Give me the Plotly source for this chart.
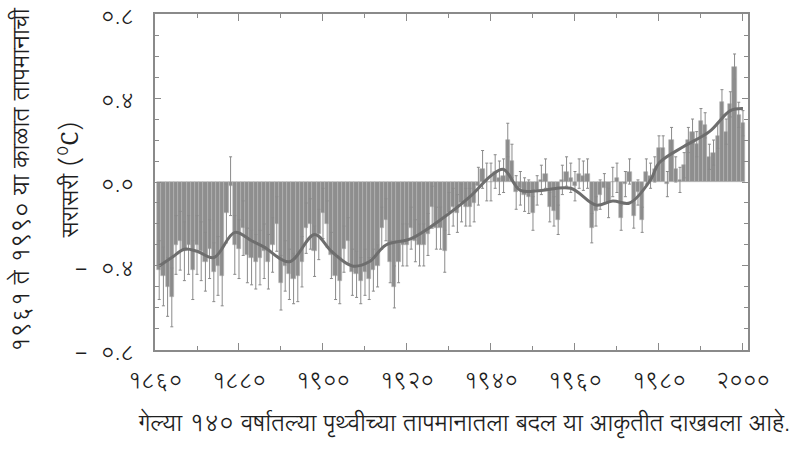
import plotly.graph_objects as go

years = list(range(1861, 2001))
anomaly = [
    -0.42, -0.45, -0.50, -0.55, -0.30, -0.28, -0.33, -0.30, -0.42, -0.30,
    -0.33, -0.38, -0.32, -0.43, -0.40, -0.45, -0.15, -0.02, -0.30, -0.32,
    -0.22, -0.35, -0.36, -0.38, -0.36, -0.33, -0.38, -0.30, -0.20, -0.48,
    -0.40, -0.44, -0.46, -0.45, -0.38, -0.22, -0.20, -0.33, -0.25, -0.15,
    -0.20, -0.35, -0.45, -0.47, -0.32, -0.28, -0.43, -0.44, -0.47, -0.43,
    -0.46, -0.42, -0.40, -0.22, -0.18, -0.38, -0.50, -0.38, -0.30, -0.30,
    -0.22, -0.28, -0.30, -0.30, -0.25, -0.12, -0.22, -0.22, -0.33, -0.15,
    -0.12, -0.15, -0.10, -0.12, -0.12, -0.10, -0.02, 0.06, 0.00, 0.00,
    0.05, 0.02, 0.03, 0.20, 0.10, -0.05, -0.03, -0.06, -0.07, -0.15,
    -0.04, 0.01, 0.04, -0.12, -0.14, -0.18, 0.01, 0.05, 0.02, -0.02,
    0.04, 0.03, 0.04, -0.22, -0.14, -0.06, -0.03, -0.10, 0.00, 0.02,
    -0.17, -0.01, 0.05, -0.16, -0.05, -0.18, 0.05, 0.03, 0.06, 0.16,
    0.16, -0.01, 0.20, 0.06, 0.01, 0.08, 0.20, 0.24, 0.18, 0.29,
    0.27, 0.12, 0.14, 0.22, 0.38, 0.24, 0.37, 0.55, 0.32, 0.28,
]
# uncertainty half-width per decade (1861-1870, ..., 1991-2000)
decade_uncertainty = [0.14, 0.14, 0.13, 0.12, 0.11, 0.10, 0.10, 0.09,
                      0.08, 0.07, 0.07, 0.06, 0.06, 0.06]
uncertainty = [decade_uncertainty[(y - 1861) // 10] for y in years]

smooth_years = [1861, 1864, 1867, 1870, 1874, 1879, 1883, 1886, 1892, 1898,
                1902, 1907, 1911, 1915, 1921, 1928, 1935, 1940, 1943, 1947,
                1952, 1959, 1965, 1969, 1973, 1978, 1980, 1986, 1992, 1997, 2000]
smooth_vals = [-0.40, -0.36, -0.32, -0.33, -0.36, -0.24, -0.28, -0.31, -0.38, -0.25,
               -0.33, -0.40, -0.38, -0.30, -0.27, -0.18, -0.07, 0.03, 0.06, -0.04,
               -0.04, -0.03, -0.11, -0.09, -0.10, 0.01, 0.09, 0.17, 0.24, 0.34, 0.35]

x_tickvals = [1860, 1880, 1900, 1920, 1940, 1960, 1980, 2000]
x_ticktext = ["१८६०", "१८८०", "१९००", "१९२०", "१९४०", "१९६०", "१९८०", "२०००"]
y_tickvals = [0.8, 0.4, 0.0, -0.4, -0.8]
y_ticktext = ["०.८", "०.४", "०.०", "-\u00a0\u00a0०.४", "-\u00a0\u00a0०.८"]

ylabel_line1 = "१९६१ ते १९९० या काळात तापमानाची"
ylabel_line2 = "सरासरी (<sup>0</sup>C)"
caption = "गेल्या १४० वर्षातल्या पृथ्वीच्या तापमानातला बदल या आकृतीत दाखवला आहे."

FONT = "Lohit Devanagari, Noto Serif Devanagari, Noto Sans Devanagari, sans-serif"
TXT = "#1e1e1e"

fig = go.Figure()
fig.add_trace(go.Bar(
    x=years, y=anomaly,
    marker=dict(color="#8e8e8e", line=dict(color="#b5b5b5", width=0.6)),
    width=1.0,
    error_y=dict(type="data", array=uncertainty, visible=True,
                 color="#8a8a8a", thickness=1, width=1.5),
    showlegend=False,
))
fig.add_trace(go.Scatter(
    x=smooth_years, y=smooth_vals, mode="lines",
    line=dict(color="#6e6e6e", width=3, shape="spline", smoothing=1.0),
    showlegend=False,
))

axis_common = dict(
    showline=True, linecolor="#8a8a8a", linewidth=1.5, mirror="ticks",
    ticks="inside", tickcolor="#8a8a8a", showgrid=False, zeroline=False,
    ticklabeloverflow="allow",
)
fig.update_xaxes(
    range=[1860, 2001.2], tickvals=x_tickvals, ticktext=x_ticktext,
    ticklen=7, tickwidth=1.2,
    minor=dict(dtick=10, tick0=1870, ticks="inside", ticklen=4, tickcolor="#8a8a8a"),
    tickfont=dict(family=FONT, size=21, color=TXT),
    ticklabelstandoff=11,
    automargin=False,
    **axis_common,
)
fig.update_yaxes(
    range=[-0.8005, 0.8005], tickvals=y_tickvals, ticktext=y_ticktext,
    ticklen=6, tickwidth=1.2,
    minor=dict(dtick=0.1, tick0=0, ticks="inside", ticklen=4, tickcolor="#8a8a8a"),
    tickfont=dict(family=FONT, size=21, color=TXT),
    ticklabelstandoff=15,
    ticklabelshift=3,
    automargin=False,
    **axis_common,
)

fig.add_annotation(text=ylabel_line1, x=-0.224, y=0.505, xref="paper", yref="paper",
                   showarrow=False, textangle=-90, xanchor="center", yanchor="middle",
                   font=dict(family=FONT, size=23.5, color=TXT))
fig.add_annotation(text=ylabel_line2, x=-0.143, y=0.506, xref="paper", yref="paper",
                   showarrow=False, textangle=-90, xanchor="center", yanchor="middle",
                   font=dict(family=FONT, size=23, color=TXT))
fig.add_annotation(text=caption, x=0.521, y=-0.223, xref="paper", yref="paper",
                   showarrow=False, xanchor="center", yanchor="middle",
                   font=dict(family=FONT, size=23, color=TXT))

fig.update_layout(
    width=801, height=450,
    margin=dict(l=155, r=53, t=14, b=100, autoexpand=False),
    paper_bgcolor="white", plot_bgcolor="white",
    bargap=0,
)
fig.write_html("out.html", config={"displayModeBar": False},
               post_script="document.body.style.margin='0';document.body.style.overflow='hidden';")
